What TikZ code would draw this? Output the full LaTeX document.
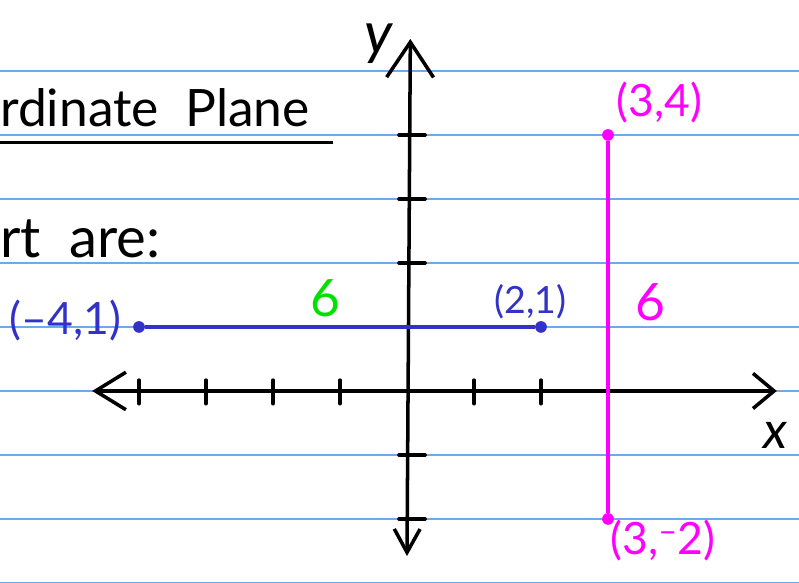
\documentclass[tikz,border=0pt]{standalone}
\usepackage{fontspec}
\setmainfont{Lato}
\usetikzlibrary{arrows.meta}

\definecolor{ruleblue}{RGB}{110,170,235}
\definecolor{penblue}{RGB}{50,50,200}
\definecolor{penpink}{RGB}{255,0,255}
\definecolor{pengreen}{RGB}{0,225,0}

\begin{document}
\begin{tikzpicture}[
    x=2.01cm, y=1.92cm,
    rule/.style={ruleblue, line width=1.2pt},
    axis/.style={line width=3pt, line cap=round},
    tick/.style={line width=3pt, line cap=round},
    seg/.style={line width=3.2pt},
    dot/.style={circle, fill, inner sep=0pt, minimum size=10pt},
    note/.style={inner sep=0pt, anchor=base west, font=\fontsize{44}{48}\selectfont},
    lbl/.style={inner sep=0pt, font=\fontsize{38}{42}\selectfont},
    len/.style={inner sep=0pt, font=\fontsize{44}{48}\selectfont},
]
\useasboundingbox (-6.075,-3.0) rectangle (5.851,6.109);

%% ── Ruled paper ──────────────────────────────────────────────────────────────
\foreach \k in {-3,...,5}
  \draw[rule] (-6.075,\k) -- (5.851,\k);

% Notes on the page (cut off at the left)
\node[note] (ttl) at (-6.075,4.14) {rdinate\ \ Plane};
\draw[line width=2.6pt] (-6.075,3.875) -- (-1.1,3.875);
\node[note, font=\fontsize{48}{52}\selectfont] (lst) at (-6.075,2.08) {rt\ \ are:};

%% ── Axes ─────────────────────────────────────────────────────────────────────
\coordinate (xl) at (-4.7,0);
\coordinate (xr) at (5.52,0);
\coordinate (yb) at (0,-2.58);
\coordinate (yt) at (0.05,5.5);

\draw[axis, {Straight Barb[length=26pt,width=32pt]}-{Straight Barb[length=18pt,width=30pt]}]
      (xl) -- (xr);
\draw[axis, {Straight Barb[length=20pt,width=22pt]}-{Straight Barb[length=30pt,width=40pt]}]
      (yb) -- (yt);

\foreach \i in {-4,-3,-2,-1,1,2,3}
  \draw[tick] (\i,-0.2) -- (\i,0.17);
\foreach \j in {-2,-1,1,2,3,4}
  \draw[tick] (-0.12,\j) -- (0.27,\j);

\node[inner sep=0pt, font=\fontsize{50}{54}\selectfont\itshape] (ylab) at (-0.43,5.42) {y};
\node[inner sep=0pt, font=\fontsize{44}{48}\selectfont\itshape] (xlab) at (5.5,-0.7) {x};

%% ── Horizontal segment ───────────────────────────────────────────────────────
\node[dot, penblue] (a) at (-4,1) {};
\node[dot, penblue] (b) at (2,1) {};
\draw[seg, penblue] (a) -- (b);
\node[lbl, penblue] (alab) at (-5.1,1.1) {(\textendash4,1)};
\node[lbl, penblue, font=\fontsize{32}{36}\selectfont] (blab) at (1.84,1.4) {(2,1)};
\node[len, pengreen] (ab6) at (-1.22,1.45) {6};

%% ── Vertical segment ─────────────────────────────────────────────────────────
\node[dot, penpink] (c) at (3,4) {};
\node[dot, penpink] (d) at (3,-2) {};
\draw[seg, penpink] (c) -- (d);
\node[lbl, penpink] (clab) at (3.77,4.5) {(3,4)};
\node[lbl, penpink] (dlab) at (3.82,-2.33)
      {(3,\raisebox{0.5ex}{\fontsize{28}{28}\selectfont\textendash}2)};
\node[len, penpink] (cd6) at (3.64,1.38) {6};

\end{tikzpicture}
\end{document}
